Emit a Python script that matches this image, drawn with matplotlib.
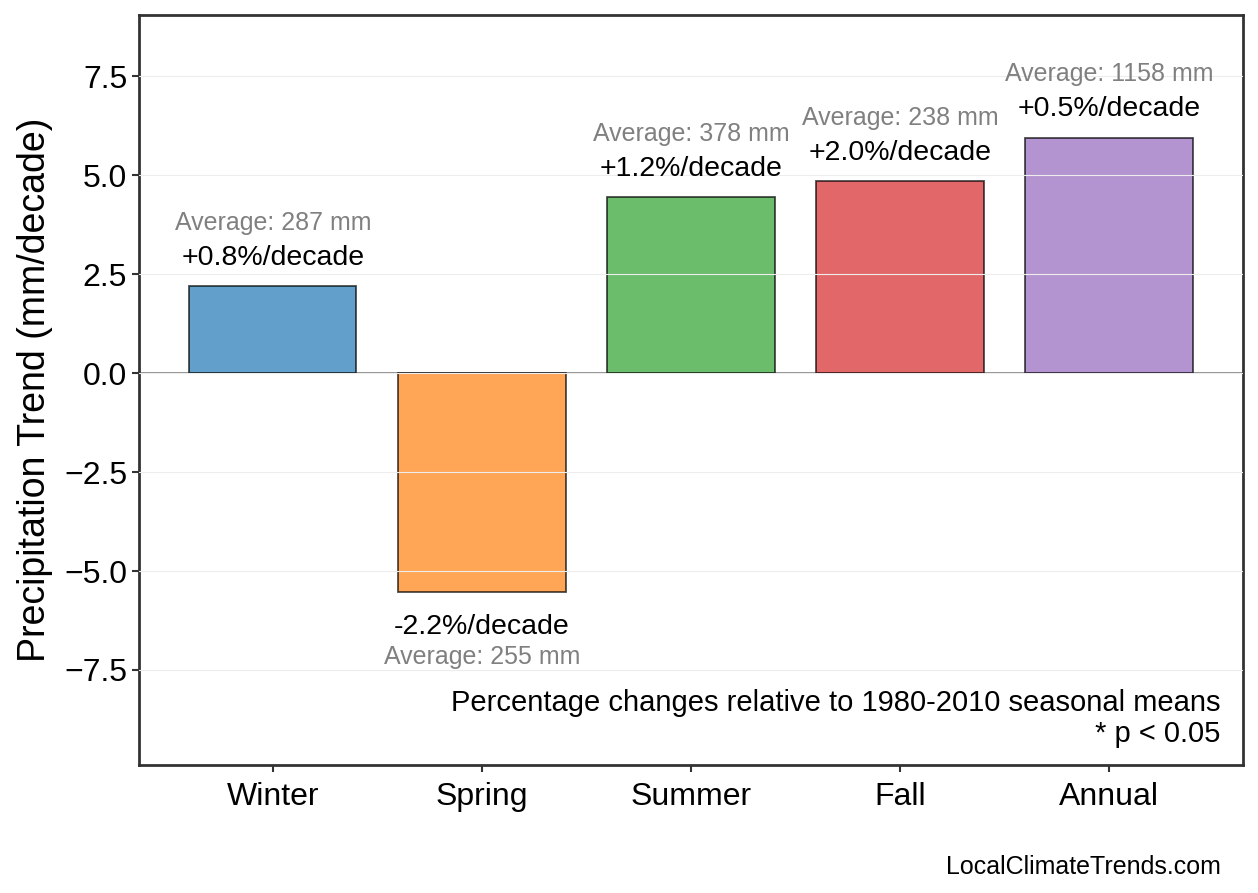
import numpy as np
import matplotlib
matplotlib.use("Agg")
import matplotlib.pyplot as plt

plt.rcParams['font.family'] = ['Liberation Sans', 'DejaVu Sans']

# data
seasons = ['Winter', 'Spring', 'Summer', 'Fall', 'Annual']
trend = [2.2, -5.52, 4.45, 4.85, 5.95]          # mm/decade
pct = [0.8, -2.2, 1.2, 2.0, 0.5]                # %/decade
avg = [287, 255, 378, 238, 1158]                # mm
colors = ['#1f77b4', '#ff7f0e', '#2ca02c', '#d62728', '#9467bd']

fig = plt.figure(figsize=(12.58, 8.93), dpi=100)
ax = fig.add_axes([0.1105, 0.1434, 0.8775, 0.8398])

x = np.arange(len(seasons))
ax.bar(x, trend, width=0.8, color=colors, alpha=0.7,
       edgecolor='black', linewidth=1.3, zorder=2)
ax.axhline(0, color='gray', linewidth=1.2, zorder=1)

for i in range(len(seasons)):
    v = trend[i]
    if v >= 0:
        ax.text(x[i], v + 0.72, f'{pct[i]:+.1f}%/decade', ha='center', va='center', fontsize=20.5)
        ax.text(x[i], v + 1.6, f'Average: {avg[i]} mm', ha='center', va='center',
                fontsize=18, color='gray')
    else:
        ax.text(x[i], v - 0.9, f'{pct[i]:+.1f}%/decade', ha='center', va='center', fontsize=20.5)
        ax.text(x[i], v - 1.65, f'Average: {avg[i]} mm', ha='center', va='center',
                fontsize=18, color='gray')

ax.set_xlim(-0.64, 4.64)
ax.set_ylim(-9.9, 9.05)
ax.set_xticks(x)
ax.set_xticklabels(seasons)
ax.set_yticks([-7.5, -5.0, -2.5, 0.0, 2.5, 5.0, 7.5])
ax.tick_params(axis='both', labelsize=23, length=5, width=1.5, color='#333333')
ax.tick_params(axis='x', pad=7)
ax.set_ylabel('Precipitation Trend (mm/decade)', fontsize=27, labelpad=8)
ax.yaxis.grid(True, color='#ededed', linewidth=0.8, zorder=0)
ax.set_axisbelow(False)

for s in ax.spines.values():
    s.set_color('#333333')
    s.set_linewidth(2)

ax.text(0.98, 0.022, 'Percentage changes relative to 1980-2010 seasonal means\n* p < 0.05',
        transform=ax.transAxes, ha='right', va='bottom', fontsize=21, linespacing=1.15)
fig.text(0.9706, 0.016, 'LocalClimateTrends.com', ha='right', va='bottom', fontsize=18)

fig.savefig('out.png', dpi=100)
